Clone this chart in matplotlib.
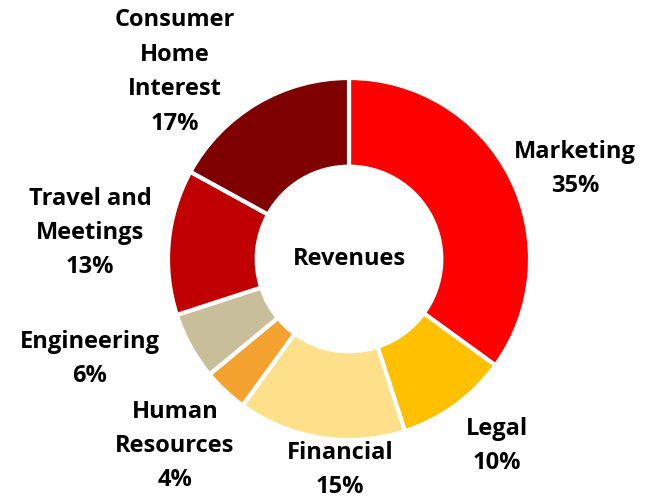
import matplotlib
matplotlib.use("Agg")
import matplotlib.pyplot as plt

categories = ["Marketing", "Legal", "Financial", "Human\nResources", "Engineering",
              "Travel and\nMeetings", "Consumer\nHome\nInterest"]
values = [35, 10, 15, 4, 6, 13, 17]
colors = ["#FF0000", "#FFC000", "#FFE08A", "#F4A330", "#C8BE9A", "#C00000", "#7F0000"]
center_label = "Revenues"

# label positions (figure pixels from top-left)
label_pos = [(575, 169), (497, 446), (340, 470), (175, 446), (90, 359), (90, 233), (175, 72)]

W, H = 646, 504
fig = plt.figure(figsize=(W / 100, H / 100), dpi=100)
ax = fig.add_axes([0, 0, 1, 1])
ax.set_xlim(0, W)
ax.set_ylim(0, H)
ax.set_aspect("equal")
ax.axis("off")

cx, cy, R = 349, H - 259, 181
ax.pie(values, colors=colors, startangle=90, counterclock=False, center=(cx, cy), radius=R,
       wedgeprops=dict(width=R * 0.49, edgecolor="white", linewidth=3))
ax.set_xlim(0, W)
ax.set_ylim(0, H)

font = dict(family=["Open Sans", "DejaVu Sans"], fontweight="bold", fontsize=17, color="black")
ax.text(cx, cy, center_label, ha="center", va="center", **font)
for cat, v, (x, y) in zip(categories, values, label_pos):
    ax.text(x, H - y, f"{cat}\n{v}%", ha="center", va="center", linespacing=1.58, **font)

fig.savefig("out.png", dpi=100, facecolor="white")
